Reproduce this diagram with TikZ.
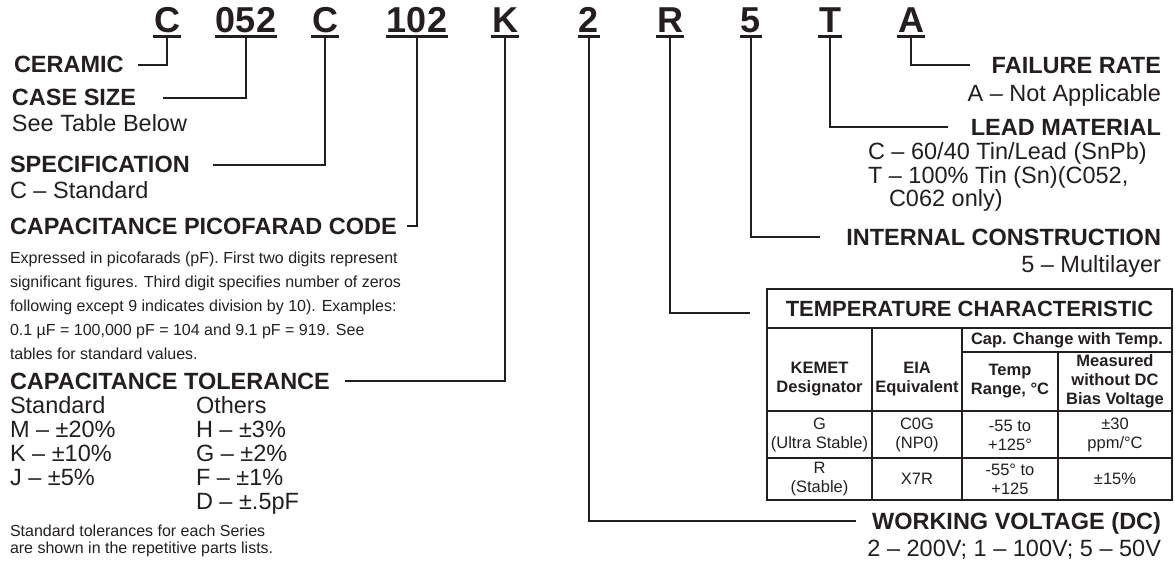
\documentclass[tikz,border=0pt]{standalone}
\usepackage{fontspec}
\setmainfont{Liberation Sans}
\definecolor{ink}{HTML}{231F20}
\begin{document}
\begin{tikzpicture}[x=1pt,y=-1pt,
  every node/.style={inner sep=0pt, outer sep=0pt, text=ink},
  code/.style={font=\fontsize{36}{40}\selectfont\bfseries, anchor=base},
  lbl/.style={font=\fontsize{23.5}{28}\selectfont\bfseries},
  big/.style={font=\fontsize{23.5}{28}\selectfont},
  para/.style={font=\fontsize{16}{25}\selectfont},
  small/.style={font=\fontsize{16}{18}\selectfont},
  conn/.style={draw=ink, line width=2.4pt},
  ul/.style={draw=ink, line width=2.4pt},
  grid/.style={draw=ink, line width=2.4pt},
  th/.style={font=\fontsize{16.5}{19}\selectfont\bfseries, align=center},
  td/.style={font=\fontsize{16.5}{19}\selectfont, align=center},
  ttl/.style={font=\fontsize{22}{26}\selectfont\bfseries}
]
\useasboundingbox (0,0) rectangle (1175,563);

% code letters
\node[code] (k1) at (167,32) {C};
\node[code] (k2) at (246,32) {052};
\node[code] (k3) at (325,32) {C};
\node[code] (k4) at (417,32) {102};
\node[code] (k5) at (505,32) {K};
\node[code] (k6) at (589,32) {2};
\node[code] (k7) at (670,32) {R};
\node[code] (k8) at (751,32) {5};
\node[code] (k9) at (830,32) {T};
\node[code] (k10) at (911,32) {A};
\foreach \k in {k1,k2,k3,k4,k5,k6,k7,k8,k9,k10}{
  \draw[ul] ([xshift=-1pt,yshift=-4.5pt]\k.base west) -- ([xshift=1pt,yshift=-4.5pt]\k.base east);
  \coordinate (\k s) at ([yshift=-4.5pt]\k.base);
}

% left labels
\node[lbl, anchor=base west] (ceramic) at (14,72) {CERAMIC};
\coordinate (ceramicEnd) at (138,65);
\draw[conn] (k1s) |- (ceramicEnd);

\node[lbl, anchor=base west] (casesize) at (12,105.5) {CASE SIZE};
\node[big, anchor=base west] (seetable) at (12,131) {See Table Below};
\coordinate (caseEnd) at (163,98);
\draw[conn] (k2s) |- (caseEnd);

\node[lbl, anchor=base west] (spec) at (10,172) {SPECIFICATION};
\node[big, anchor=base west] (specC) at (10,198.5) {C – Standard};
\coordinate (specEnd) at (213,165);
\draw[conn] (k3s) |- (specEnd);

\node[lbl, anchor=base west] (capcode) at (10,234.5) {CAPACITANCE PICOFARAD CODE};
\coordinate (capEnd) at (407,226);
\draw[conn] (k4s) |- (capEnd);
\node[para, anchor=base west] (p1) at (10,263) {Expressed in picofarads (pF). First two digits represent};
\node[para, anchor=base west] (p2) at (10,287) {significant figures. Third digit specifies number of zeros};
\node[para, anchor=base west] (p3) at (10,311) {following except 9 indicates division by 10). Examples:};
\node[para, anchor=base west] (p4) at (10,335) {0.1 µF = 100,000 pF = 104 and 9.1 pF = 919. See};
\node[para, anchor=base west] (p5) at (10,359) {tables for standard values.};

\node[lbl, anchor=base west] (tol) at (10,389.5) {CAPACITANCE TOLERANCE};
\coordinate (tolEnd) at (345,381);
\draw[conn] (k5s) |- (tolEnd);
\node[big, anchor=base west] (tstd) at (10,413.5) {Standard};
\node[big, anchor=base west] (toth) at (196,413.5) {Others};
\node[big, anchor=base west] (tm) at (10,437.5) {M – ±20\%};
\node[big, anchor=base west] (th3) at (196,437.5) {H – ±3\%};
\node[big, anchor=base west] (tk) at (10,461.5) {K – ±10\%};
\node[big, anchor=base west] (tg) at (196,461.5) {G – ±2\%};
\node[big, anchor=base west] (tj) at (10,485.5) {J – ±5\%};
\node[big, anchor=base west] (tf) at (196,485.5) {F – ±1\%};
\node[big, anchor=base west] (td5) at (196,509.5) {D – ±.5pF};
\node[small, anchor=base west] (f1) at (10,536) {Standard tolerances for each Series};
\node[small, anchor=base west] (f2) at (10,553) {are shown in the repetitive parts lists.};

% right labels
\node[lbl, anchor=base east] (failure) at (1161,73.5) {FAILURE RATE};
\coordinate (failEnd) at (970,65);
\draw[conn] (k10s) |- (failEnd);
\node[big, anchor=base east] (failA) at (1161,101.5) {A – Not Applicable};

\node[lbl, anchor=base east] (lead) at (1161,135) {LEAD MATERIAL};
\coordinate (leadEnd) at (948,127);
\draw[conn] (k9s) |- (leadEnd);
\node[big, anchor=base west] (leadC) at (868,159.5) {C – 60/40 Tin/Lead (SnPb)};
\node[big, anchor=base west] (leadT) at (868,183.5) {T – 100\% Tin (Sn)(C052,};
\node[big, anchor=base west] (leadT2) at (889,206.5) {C062 only)};

\node[lbl, anchor=base east] (internal) at (1161,245.5) {INTERNAL CONSTRUCTION};
\coordinate (intEnd) at (820,237);
\draw[conn] (k8s) |- (intEnd);
\node[big, anchor=base east] (intv) at (1161,272.5) {5 – Multilayer};

\coordinate (rEnd) at (750,313);
\draw[conn] (k7s) |- (rEnd);

\node[lbl, anchor=base east] (wv) at (1161,529) {WORKING VOLTAGE (DC)};
\coordinate (wvEnd) at (856,521);
\draw[conn] (k6s) |- (wvEnd);
\node[big, anchor=base east] (wvv) at (1161,556) {2 – 200V; 1 – 100V; 5 – 50V};

% table
\draw[grid] (767,289) rectangle (1172,500);
\draw[grid] (767,328) -- (1172,328);
\draw[grid] (962,352) -- (1172,352);
\draw[grid] (767,411) -- (1172,411);
\draw[grid] (767,458) -- (1172,458);
\draw[grid] (872,328) -- (872,500);
\draw[grid] (962,328) -- (962,500);
\draw[grid] (1058,352) -- (1058,500);

\node[ttl] (ttitle) at (969.5,309) {TEMPERATURE CHARACTERISTIC};
\node[th] (tcap) at (1067,340.5) {Cap. Change with Temp.};
\node[th] (hk) at (819.5,379) {KEMET\\Designator};
\node[th] (he) at (917,379) {EIA\\Equivalent};
\node[th] (ht) at (1010,381) {Temp\\Range, °C};
\node[th] (hm) at (1115,381) {Measured\\without DC\\Bias Voltage};
\node[td] (g1) at (819.5,435) {G\\(Ultra Stable)};
\node[td] (g2) at (917,435) {C0G\\(NP0)};
\node[td] (g3) at (1010,435) {-55 to\\+125°};
\node[td] (g4) at (1115,435) {±30\\ppm/°C};
\node[td] (r1) at (819.5,479) {R\\(Stable)};
\node[td] (r2) at (917,479) {X7R};
\node[td] (r3) at (1010,479) {-55° to\\+125};
\node[td] (r4) at (1115,479) {±15\%};
\end{tikzpicture}
\end{document}
